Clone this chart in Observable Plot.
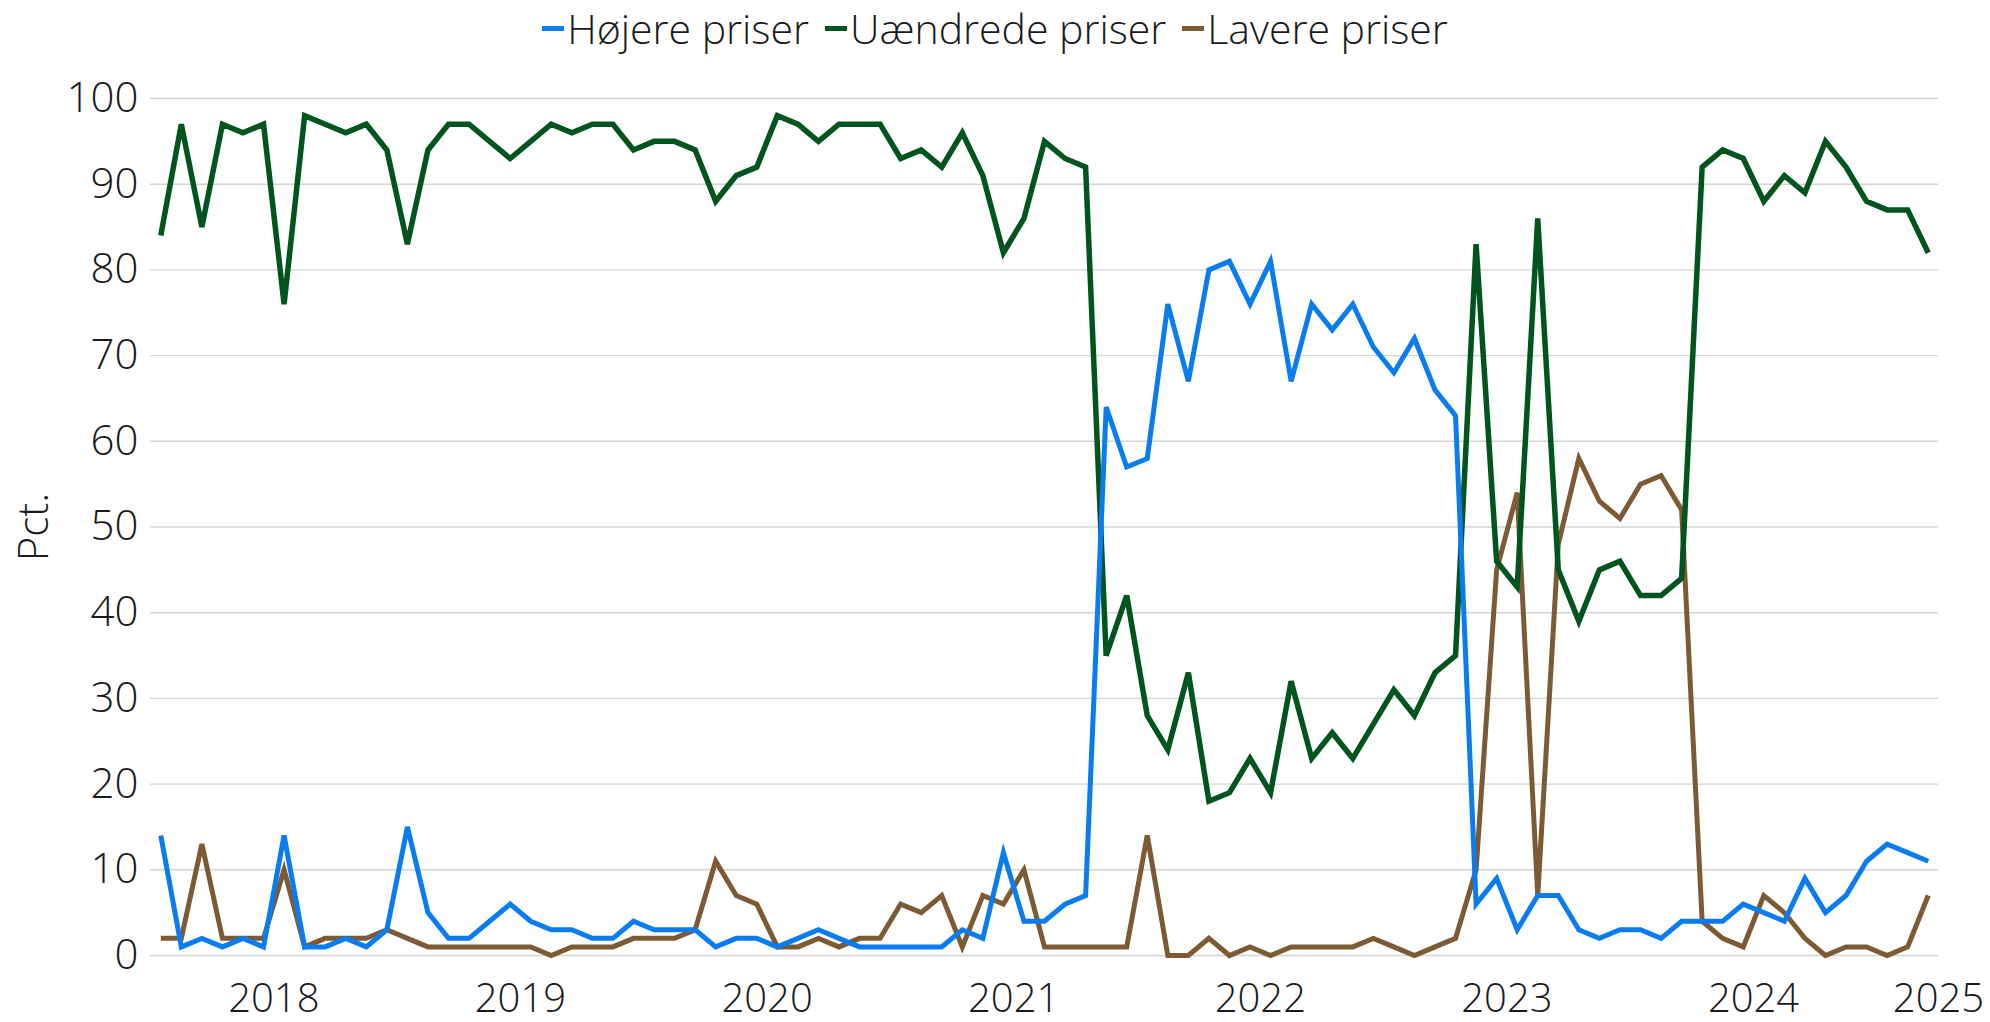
<!DOCTYPE html>
<html>
<head>
<meta charset="utf-8">
<script src="https://cdn.jsdelivr.net/npm/d3@7"></script>
<script src="https://cdn.jsdelivr.net/npm/@observablehq/plot@0.6"></script>
<style>
  html, body { margin: 0; padding: 0; background: #fff; }
  body { width: 1990px; height: 1022px; overflow: hidden; font-family: "Open Sans", sans-serif; font-weight: 300; color: #1a1a1a; }
  #legend { height: 56px; display: flex; justify-content: center; align-items: center; font-size: 41px; }
  .item { display: flex; align-items: center; margin: 0 8px; }
  .sw { width: 22px; height: 5px; margin-right: 3px; }
  #chart svg { display: block; overflow: visible; }
</style>
</head>
<body>
<div id="legend"></div>
<div id="chart"></div>
<script>
// ---- Data (monthly, starting January 2018) ----
const startYear = 2018;
const seriesNames = ["Højere priser", "Uændrede priser", "Lavere priser"];
const hojere = [14,1,2,1,2,1,14,1,1,2,1,3,15,5,2,2,4,6,4,3,3,2,2,4,3,3,3,1,2,2,1,2,3,2,1,1,1,1,1,3,2,12,4,4,6,7,64,57,58,76,67,80,81,76,81,67,76,73,76,71,68,72,66,63,6,9,3,7,7,3,2,3,3,2,4,4,4,6,5,4,9,5,7,11,13,12,11];
const uaendrede = [84,97,85,97,96,97,76,98,97,96,97,94,83,94,97,97,95,93,95,97,96,97,97,94,95,95,94,88,91,92,98,97,95,97,97,97,93,94,92,96,91,82,86,95,93,92,35,42,28,24,33,18,19,23,19,32,23,26,23,27,31,28,33,35,83,46,43,86,45,39,45,46,42,42,44,92,94,93,88,91,89,95,92,88,87,87,82];
const lavere = [2,2,13,2,2,2,10,1,2,2,2,3,2,1,1,1,1,1,1,0,1,1,1,2,2,2,3,11,7,6,1,1,2,1,2,2,6,5,7,1,7,6,10,1,1,1,1,1,14,0,0,2,0,1,0,1,1,1,1,2,1,0,1,2,10,45,54,7,48,58,53,51,55,56,52,4,2,1,7,5,2,0,1,1,0,1,7];
const yearLabels = [2018, 2019, 2020, 2021, 2022, 2023, 2024, 2025];
const yTicks = [0, 10, 20, 30, 40, 50, 60, 70, 80, 90, 100];

// ---- Styles ----
const colors = ["#0a7cf2", "#00541e", "#7c5a34"];
const widths = [5, 5.5, 5];
const FONT = "'Open Sans', sans-serif";

// ---- Build table ----
const valuesBySeries = [hojere, uaendrede, lavere];
const nMonths = hojere.length;
const rows = seriesNames.flatMap((name, k) =>
  valuesBySeries[k].map((v, i) => ({ series: name, t: startYear + (i + 0.5) / 12, value: v }))
);
const xMin = startYear;
const xMax = startYear + nMonths / 12;
const tickPos = yearLabels.map(y => Math.min(y + 0.5, xMax));
const tickLabel = new Map(tickPos.map((p, i) => [p, String(yearLabels[i])]));

// ---- Legend ----
const legend = document.getElementById("legend");
seriesNames.forEach((name, k) => {
  const item = document.createElement("div");
  item.className = "item";
  const sw = document.createElement("span");
  sw.className = "sw";
  sw.style.background = colors[k];
  const lab = document.createElement("span");
  lab.textContent = name;
  item.appendChild(sw);
  item.appendChild(lab);
  legend.appendChild(item);
});

// ---- Chart ----
const drawOrder = [2, 1, 0];
const chart = Plot.plot({
  width: 1990,
  height: 966,
  marginTop: 42,
  marginBottom: 67,
  marginLeft: 150,
  marginRight: 52,
  style: { fontFamily: FONT, fontWeight: 300, color: "#1a1a1a", background: "#fff", overflow: "visible" },
  x: { domain: [xMin, xMax] },
  y: { domain: [0, 100] },
  color: { domain: seriesNames, range: colors },
  marks: [
    Plot.gridY(yTicks, { stroke: "#d4d4d4", strokeOpacity: 1, strokeWidth: 1.4 }),
    Plot.axisY(yTicks, {
      tickSize: 0, tickPadding: 12, fontSize: 42,
      label: "Pct.", labelAnchor: "center", labelOffset: 132, labelArrow: "none"
    }),
    Plot.axisX(tickPos, {
      tickSize: 0, tickPadding: 28, fontSize: 40, label: null,
      tickFormat: d => tickLabel.get(d)
    }),
    ...drawOrder.map(k =>
      Plot.line(rows.filter(r => r.series === seriesNames[k]), {
        x: "t", y: "value", stroke: "series",
        strokeWidth: widths[k], strokeLinejoin: "miter", strokeMiterlimit: 4, strokeLinecap: "butt"
      })
    )
  ]
});
document.getElementById("chart").appendChild(chart);
</script>
</body>
</html>
